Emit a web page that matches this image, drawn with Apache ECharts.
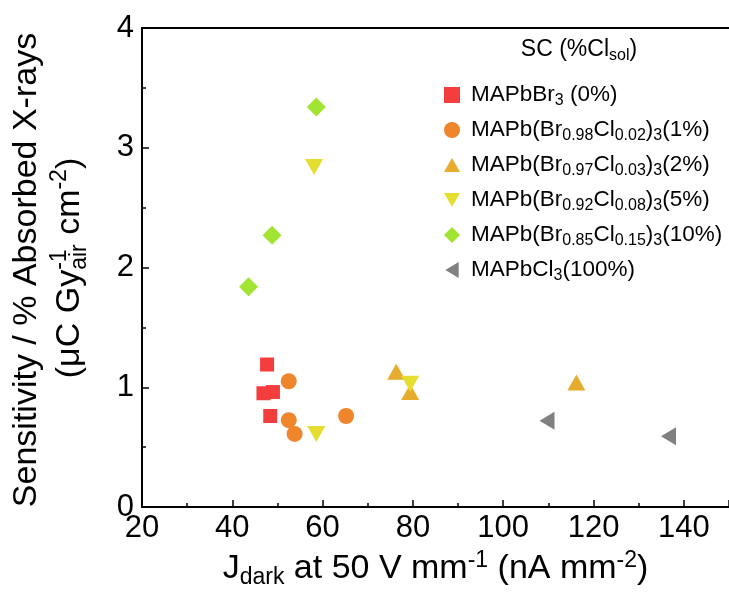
<!DOCTYPE html>
<html><head><meta charset="utf-8">
<script src="https://cdn.jsdelivr.net/npm/echarts@6/dist/echarts.min.js"></script>
<style>html,body{margin:0;padding:0;background:#fff}#c{width:729px;height:594px}</style>
</head><body><div id="c"></div>
<script>
// ---- data ----
const xTickValues = [20, 40, 60, 80, 100, 120, 140];
const yTickValues = [0, 1, 2, 3, 4];
const seriesNames = [
  'MAPbBr3 (0%)',
  'MAPb(Br0.98Cl0.02)3(1%)',
  'MAPb(Br0.97Cl0.03)3(2%)',
  'MAPb(Br0.92Cl0.08)3(5%)',
  'MAPb(Br0.85Cl0.15)3(10%)',
  'MAPbCl3(100%)'
];
const legendRich = [
  'MAPbBr{s|3} (0%)',
  'MAPb(Br{s|0.98}Cl{s|0.02}){s|3}(1%)',
  'MAPb(Br{s|0.97}Cl{s|0.03}){s|3}(2%)',
  'MAPb(Br{s|0.92}Cl{s|0.08}){s|3}(5%)',
  'MAPb(Br{s|0.85}Cl{s|0.15}){s|3}(10%)',
  'MAPbCl{s|3}(100%)'
];
const br0X = [47.7, 49.0, 46.9, 48.4];
const br0Y = [1.19, 0.96, 0.95, 0.76];
const cl1X = [52.5, 52.5, 53.8, 65.2];
const cl1Y = [1.05, 0.725, 0.61, 0.76];
const cl2X = [76.3, 79.4, 116.2];
const cl2Y = [1.13, 0.96, 1.04];
const cl5X = [58.1, 79.4, 58.6];
const cl5Y = [2.84, 1.03, 0.61];
const cl10X = [43.6, 48.8, 58.6];
const cl10Y = [1.84, 2.27, 3.34];
const cl100X = [109.7, 136.6];
const cl100Y = [0.72, 0.59];

const FONT = 'Arial, "Liberation Sans", sans-serif';
const zip = (a, b) => a.map((v, i) => [v, b[i]]);

const styles = [
  {color: '#f43d3d', symbol: 'rect', size: 14, rot: 0, icon: 'rect'},
  {color: '#ef862b', symbol: 'circle', size: 16, rot: 0, icon: 'circle'},
  {color: '#e7ab2e', symbol: 'triangle', size: [18, 16], rot: 0, icon: 'path://M9,0L18,16L0,16Z'},
  {color: '#e5dd30', symbol: 'triangle', size: [18, 16], rot: 180, icon: 'path://M0,0L18,0L9,16Z'},
  {color: '#a2e432', symbol: 'diamond', size: [19, 19], rot: 0, icon: 'diamond'},
  {color: '#808080', symbol: 'triangle', size: [18, 15], rot: 90, icon: 'path://M15,0L15,18L0,9Z'}
];
const xs = [br0X, cl1X, cl2X, cl5X, cl10X, cl100X];
const ys = [br0Y, cl1Y, cl2Y, cl5Y, cl10Y, cl100Y];

const series = seriesNames.map((n, i) => ({
  name: n,
  type: 'scatter',
  data: zip(xs[i], ys[i]),
  symbol: styles[i].symbol,
  symbolSize: styles[i].size,
  symbolRotate: styles[i].rot,
  itemStyle: {color: styles[i].color, opacity: 1},
  emphasis: {disabled: true}
}));

// ---- y-axis title, second line built from pieces (stacked sup/sub) ----
const mctx = document.createElement('canvas').getContext('2d');
function tw(t, size) { mctx.font = size + 'px ' + FONT; return mctx.measureText(t).width; }
const BIG = 34, SMALL = 23;
const parts = [
  {t: '(μC Gy', s: BIG, dy: 0, adv: true},
  {t: '-1', s: SMALL, dy: -10, adv: false},
  {t: 'air', s: SMALL, dy: 10, adv: true},
  {t: ' cm', s: BIG, dy: 0, adv: true},
  {t: '-2', s: SMALL, dy: -10, adv: true},
  {t: ')', s: BIG, dy: 0, adv: true}
];
let total = 0;
parts.forEach(p => { if (p.adv) total += tw(p.t, p.s); });
let cur = -total / 2;
const line2Children = parts.map(p => {
  const el = {type: 'text', x: cur, y: p.dy,
    style: {text: p.t, fontSize: p.s, fontFamily: FONT, fill: '#000', align: 'left', verticalAlign: 'middle'}};
  if (p.adv) cur += tw(p.t, p.s);
  return el;
});

const axisCommon = {
  axisLine: {show: true, lineStyle: {color: '#000', width: 2}},
  axisTick: {show: true, inside: true, length: 7, lineStyle: {color: '#000', width: 1.5}},
  minorTick: {show: true, splitNumber: 2, length: 4, lineStyle: {color: '#000', width: 1.5}},
  splitLine: {show: false},
  minorSplitLine: {show: false}
};

const chart = echarts.init(document.getElementById('c'), null, {renderer: 'canvas'});
chart.setOption({
  animation: false,
  backgroundColor: '#fff',
  grid: {left: 142, top: 28, right: -8, bottom: 87, containLabel: false},
  xAxis: [
    Object.assign({}, axisCommon, {
      type: 'value', position: 'bottom',
      min: xTickValues[0], max: 150, interval: 20,
      axisLabel: {show: true, fontSize: 31, color: '#000', fontFamily: FONT, margin: 6, showMaxLabel: false},
      name: 'J{sub|dark} at 50 V mm{sup|-1} (nA mm{sup|-2})',
      nameLocation: 'middle', nameGap: 42,
      nameTextStyle: {
        fontSize: 34, color: '#000', fontFamily: FONT, lineHeight: 40,
        rich: {
          sub: {fontSize: 23, fontFamily: FONT, color: '#000', verticalAlign: 'bottom', lineHeight: 22},
          sup: {fontSize: 23, fontFamily: FONT, color: '#000', verticalAlign: 'top', lineHeight: 22}
        }
      }
    }),
    {
      type: 'value', position: 'top', min: xTickValues[0], max: 150,
      axisLine: {show: true, lineStyle: {color: '#000', width: 2}},
      axisTick: {show: false}, axisLabel: {show: false}, splitLine: {show: false}
    }
  ],
  yAxis: Object.assign({}, axisCommon, {
    type: 'value', min: yTickValues[0], max: yTickValues[yTickValues.length - 1], interval: 1,
    axisLabel: {show: true, fontSize: 31, color: '#000', fontFamily: FONT, margin: 8}
  }),
  legend: {
    orient: 'vertical', left: 439, top: 76,
    itemWidth: 16, itemHeight: 16, itemGap: 7,
    symbolKeepAspect: true,
    selectedMode: false,
    data: seriesNames.map((n, i) => ({name: n, icon: styles[i].icon})),
    formatter: (name) => legendRich[seriesNames.indexOf(name)],
    textStyle: {
      fontSize: 22.5, color: '#000', fontFamily: FONT, lineHeight: 28, padding: [0, 0, 0, 6],
      rich: {
        s: {fontSize: 16, fontFamily: FONT, color: '#000', verticalAlign: 'bottom', lineHeight: 14}
      }
    }
  },
  graphic: [
    {
      type: 'text', x: 579, y: 50,
      style: {
        text: 'SC (%Cl{s|sol})', align: 'center', verticalAlign: 'middle',
        fontSize: 23, fontFamily: FONT, fill: '#000', lineHeight: 28,
        rich: {s: {fontSize: 16, fontFamily: FONT, fill: '#000', verticalAlign: 'bottom', lineHeight: 14}}
      }
    },
    {
      type: 'text', x: 27, y: 270, rotation: Math.PI / 2,
      style: {
        text: 'Sensitivity / % Absorbed X-rays', align: 'center', verticalAlign: 'middle',
        fontSize: 34, fontFamily: FONT, fill: '#000'
      }
    },
    {
      type: 'group', x: 70, y: 268, rotation: Math.PI / 2,
      children: line2Children
    }
  ],
  series: series
});
</script></body></html>
